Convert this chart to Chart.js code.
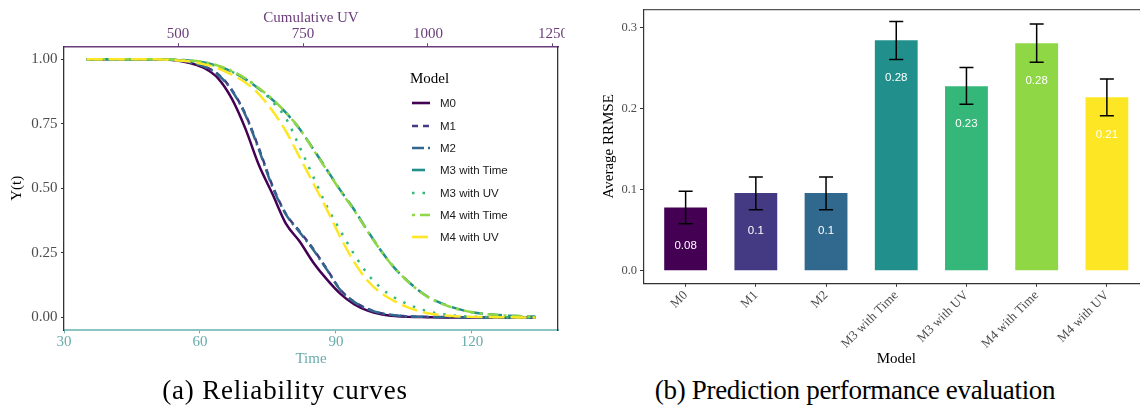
<!DOCTYPE html>
<html><head><meta charset="utf-8">
<script src="https://cdn.jsdelivr.net/npm/chart.js@4.4.1/dist/chart.umd.min.js"></script>
<style>
html,body{margin:0;padding:0;background:#fff;}
body{width:1140px;height:405px;overflow:hidden;position:relative;}
#ca{position:absolute;left:0;top:0;}
#cb{position:absolute;left:570px;top:0;}
.cap{position:absolute;top:374px;width:570px;text-align:center;font-family:"Liberation Serif",serif;font-size:27px;line-height:32px;color:#000;white-space:nowrap;}
#legend{position:absolute;left:0;top:0;width:565px;height:370px;pointer-events:none;}
.lt{position:absolute;left:410px;top:68px;font-family:"Liberation Serif",serif;font-size:15px;line-height:20px;color:#000;}
.li{position:absolute;left:411px;height:14px;display:flex;align-items:center;}
.li svg{display:block;}
.li span{margin-left:9px;font-family:"Liberation Sans",sans-serif;font-size:11.5px;line-height:14px;color:#1a1a1a;}
</style></head>
<body>
<canvas id="ca" width="565" height="370"></canvas>
<canvas id="cb" width="580" height="370"></canvas>
<div id="legend"></div>
<div class="cap" style="left:0;letter-spacing:0.8px">(a) Reliability curves</div>
<div class="cap" style="left:570px;letter-spacing:-0.3px">(b) Prediction performance evaluation</div>
<script>
// ---------- DATA ----------
const modelNames = ['M0', 'M1', 'M2', 'M3 with Time', 'M3 with UV', 'M4 with Time', 'M4 with UV'];
const timePoints = [35, 40, 45, 50, 55, 58, 61, 64, 67, 70, 73, 76, 79, 82, 85, 88, 91, 94, 97, 100, 103, 106, 110, 115, 120, 125, 130, 134];
const relM0     = [1, 1, 1, 1, 0.995, 0.984, 0.965, 0.926, 0.848, 0.732, 0.59, 0.478, 0.362, 0.294, 0.213, 0.147, 0.091, 0.051, 0.026, 0.012, 0.005, 0.002, 0.001, 0, 0, 0, 0, 0];
const relM1     = [1, 1, 1, 1, 0.996, 0.987, 0.972, 0.942, 0.882, 0.788, 0.655, 0.51, 0.4, 0.333, 0.265, 0.187, 0.107, 0.061, 0.033, 0.016, 0.008, 0.004, 0.002, 0.001, 0, 0, 0, 0];
const relM2     = [1, 1, 1, 1, 0.996, 0.987, 0.971, 0.94, 0.88, 0.785, 0.65, 0.505, 0.398, 0.33, 0.262, 0.185, 0.105, 0.06, 0.032, 0.016, 0.008, 0.004, 0.002, 0.001, 0, 0, 0, 0];
const relM3Time = [1, 1, 1, 1, 0.998, 0.994, 0.987, 0.973, 0.952, 0.923, 0.886, 0.843, 0.792, 0.73, 0.652, 0.572, 0.492, 0.418, 0.335, 0.257, 0.19, 0.138, 0.083, 0.043, 0.02, 0.01, 0.005, 0.003];
const relM3UV   = [1, 1, 1, 1, 0.997, 0.993, 0.985, 0.972, 0.952, 0.925, 0.887, 0.835, 0.77, 0.66, 0.545, 0.43, 0.335, 0.245, 0.168, 0.113, 0.076, 0.05, 0.025, 0.009, 0.003, 0.001, 0, 0];
const relM4Time = [1, 1, 1, 1, 0.998, 0.995, 0.988, 0.975, 0.955, 0.926, 0.888, 0.845, 0.793, 0.73, 0.65, 0.57, 0.49, 0.415, 0.333, 0.256, 0.19, 0.137, 0.082, 0.042, 0.02, 0.01, 0.005, 0.002];
const relM4UV   = [1, 1, 1, 1, 0.995, 0.99, 0.98, 0.965, 0.94, 0.91, 0.865, 0.8, 0.72, 0.62, 0.52, 0.418, 0.31, 0.215, 0.142, 0.094, 0.062, 0.038, 0.017, 0.006, 0.002, 0.001, 0, 0];
const reliabilitySeries = [relM0, relM1, relM2, relM3Time, relM3UV, relM4Time, relM4UV];
const uvPerTime = 9.065;               // Cumulative UV per unit of Time (secondary axis)
const timeTicks = [30, 60, 90, 120];
const uvTicks = [500, 750, 1000, 1250];
const reliabilityTicks = [0, 0.25, 0.5, 0.75, 1];

const rrmseMean = [0.0778, 0.0958, 0.0957, 0.284, 0.2275, 0.2805, 0.2138];
const rrmseLow  = [0.0578, 0.0752, 0.0752, 0.2603, 0.2051, 0.2569, 0.191];
const rrmseHigh = [0.0979, 0.1155, 0.1155, 0.3072, 0.2506, 0.3041, 0.2363];
const rrmseTicks = [0, 0.1, 0.2, 0.3];

// ---------- STYLE ----------
const viridis = ['#440154', '#443A83', '#31688E', '#21908C', '#35B779', '#8FD744', '#FDE725'];
const dashes = [[], [6, 5], [12, 4, 2, 4], [13, 6], [2.5, 8], [3, 5, 11, 5], [16, 6]];
const SERIF = '"Liberation Serif", serif';
const SANS = '"Liberation Sans", sans-serif';
const PURPLE = '#6a3d7a', TEAL = '#6aabab', GREY = '#4d4d4d', DARK = '#333333';

function fixed(w, h) {
  return axis => {
    if (w != null) axis.width = w;
    if (h != null) axis.height = h;
    axis.paddingLeft = 0; axis.paddingRight = 0; axis.paddingTop = 0; axis.paddingBottom = 0;
  };
}
function setTicks(values) {
  return axis => { axis.ticks = values.map(v => ({ value: v })); };
}

// ---------- CHART A ----------
const chartA = new Chart(document.getElementById('ca'), {
  type: 'line',
  data: {
    datasets: reliabilitySeries.map((vals, i) => ({
      label: modelNames[i],
      data: timePoints.map((t, k) => ({ x: t, y: vals[k] })),
      borderColor: viridis[i],
      borderWidth: 2.5,
      borderDash: dashes[i],
      pointRadius: 0,
      fill: false,
      cubicInterpolationMode: 'monotone',
      order: modelNames.length - i
    }))
  },
  options: {
    responsive: false, animation: false, events: [],
    devicePixelRatio: 1,
    layout: { padding: 0 },
    plugins: { legend: { display: false }, tooltip: { enabled: false } },
    scales: {
      x: {
        type: 'linear', position: 'bottom', min: 30, max: 139,
        afterBuildTicks: setTicks(timeTicks),
        afterFit: fixed(null, 39.7),
        ticks: { autoSkip: false, maxRotation: 0, padding: 0, color: TEAL, font: { family: SERIF, size: 15 }, callback: v => String(v) },
        grid: { display: true, drawOnChartArea: false, drawTicks: true, tickLength: 3, color: TEAL, tickColor: TEAL },
        border: { display: true, color: '#8cc4c4', width: 2 },
        title: { display: true, text: 'Time', color: TEAL, font: { family: SERIF, size: 15 }, padding: { top: 0, bottom: 2 } }
      },
      xUV: {
        type: 'linear', position: 'top', min: 30 * uvPerTime, max: 139 * uvPerTime,
        afterBuildTicks: setTicks(uvTicks),
        afterFit: fixed(null, 46.3),
        ticks: { autoSkip: false, maxRotation: 0, padding: 0, color: PURPLE, font: { family: SERIF, size: 15 }, callback: v => String(v) },
        grid: { display: true, drawOnChartArea: false, drawTicks: true, tickLength: 3, color: PURPLE, tickColor: PURPLE },
        border: { display: true, color: PURPLE, width: 1.5 },
        title: { display: true, text: 'Cumulative UV', color: PURPLE, font: { family: SERIF, size: 15 }, padding: { top: 9, bottom: 0 } }
      },
      y: {
        type: 'linear', position: 'left', min: -0.05, max: 1.05,
        afterBuildTicks: setTicks(reliabilityTicks),
        afterFit: fixed(64, null),
        ticks: { autoSkip: false, padding: 3.5, color: GREY, font: { family: SERIF, size: 15 }, callback: v => v.toFixed(2) },
        grid: { display: true, drawOnChartArea: false, drawTicks: true, tickLength: 3, color: DARK, tickColor: DARK },
        border: { display: true, color: DARK, width: 1.3 },
        title: { display: true, text: 'Y(t)', color: '#000', font: { family: SERIF, size: 15 }, padding: { top: 8, bottom: 0 } }
      },
      yRight: {
        type: 'linear', position: 'right', min: 0, max: 1,
        afterFit: fixed(7, null),
        ticks: { display: false },
        grid: { display: false },
        border: { display: true, color: DARK, width: 1.3 }
      }
    }
  }
});

// HTML legend built from the series definitions
(function () {
  const lg = document.getElementById('legend');
  let html = '<div class="lt">Model</div>';
  modelNames.forEach((n, i) => {
    const top = 103.3 + 22.3 * i - 7;
    html += `<div class="li" style="top:${top}px"><svg width="20" height="8"><line x1="1" y1="4" x2="19" y2="4" stroke="${viridis[i]}" stroke-width="2.6" stroke-dasharray="${dashes[i].length ? dashes[i].join(' ') : 'none'}"/></svg><span>${n}</span></div>`;
  });
  lg.innerHTML = html;
})();

// ---------- CHART B ----------
const errorBarPlugin = {
  id: 'errorBars',
  afterDatasetsDraw(chart) {
    const { ctx, scales: { x, y } } = chart;
    ctx.save();
    ctx.strokeStyle = '#000';
    ctx.lineWidth = 1.5;
    rrmseMean.forEach((v, i) => {
      const px = x.getPixelForValue(i + 1);
      const lo = y.getPixelForValue(rrmseLow[i]);
      const hi = y.getPixelForValue(rrmseHigh[i]);
      ctx.beginPath();
      ctx.moveTo(px, lo); ctx.lineTo(px, hi);
      ctx.moveTo(px - 7, lo); ctx.lineTo(px + 7, lo);
      ctx.moveTo(px - 7, hi); ctx.lineTo(px + 7, hi);
      ctx.stroke();
    });
    ctx.fillStyle = '#ffffff';
    ctx.font = '11.5px ' + SANS;
    ctx.textAlign = 'center';
    ctx.textBaseline = 'middle';
    rrmseMean.forEach((v, i) => {
      const px = x.getPixelForValue(i + 1);
      const py = y.getPixelForValue(v) + 38;
      ctx.fillText(String(Number(v.toFixed(2))), px, py);
    });
    ctx.restore();
  }
};

const chartB = new Chart(document.getElementById('cb'), {
  type: 'bar',
  data: {
    datasets: [{
      label: 'Average RRMSE',
      data: rrmseMean.map((v, i) => ({ x: i + 1, y: v })),
      backgroundColor: viridis,
      borderWidth: 0,
      barPercentage: 0.61,
      categoryPercentage: 1
    }]
  },
  plugins: [errorBarPlugin],
  options: {
    responsive: false, animation: false, events: [],
    devicePixelRatio: 1,
    layout: { padding: { left: 0, right: 1, top: 0, bottom: 0 } },
    plugins: { legend: { display: false }, tooltip: { enabled: false } },
    scales: {
      x: {
        type: 'linear', position: 'bottom', min: 0.4, max: 7.6, offset: false,
        afterBuildTicks: setTicks(modelNames.map((n, i) => i + 1)),
        afterFit: fixed(null, 86.7),
        ticks: { autoSkip: false, minRotation: 45, maxRotation: 45, padding: 1, color: GREY, font: { family: SERIF, size: 13 }, callback: v => modelNames[v - 1] },
        grid: { display: true, offset: false, drawOnChartArea: false, drawTicks: true, tickLength: 3.5, color: DARK, tickColor: DARK },
        border: { display: true, color: DARK, width: 1.2 },
        title: { display: true, text: 'Model', color: '#000', font: { family: SERIF, size: 15 }, padding: { top: 0, bottom: 2 } }
      },
      xTop: {
        type: 'linear', position: 'top', min: 0, max: 1,
        afterFit: fixed(null, 9.3),
        ticks: { display: false },
        grid: { display: false },
        border: { display: true, color: '#555', width: 1.2 }
      },
      y: {
        type: 'linear', position: 'left', min: -0.0155, max: 0.3222,
        afterBuildTicks: setTicks(rrmseTicks),
        afterFit: fixed(73.5, null),
        ticks: { autoSkip: false, padding: 3, color: GREY, font: { family: SERIF, size: 12.5 }, callback: v => v.toFixed(1) },
        grid: { display: true, drawOnChartArea: false, drawTicks: true, tickLength: 3.5, color: DARK, tickColor: DARK },
        border: { display: true, color: DARK, width: 1.2 },
        title: { display: true, text: 'Average RRMSE', color: '#000', font: { family: SERIF, size: 15 }, padding: { top: 30, bottom: 0 } }
      }
    }
  }
});
</script>
</body></html>
